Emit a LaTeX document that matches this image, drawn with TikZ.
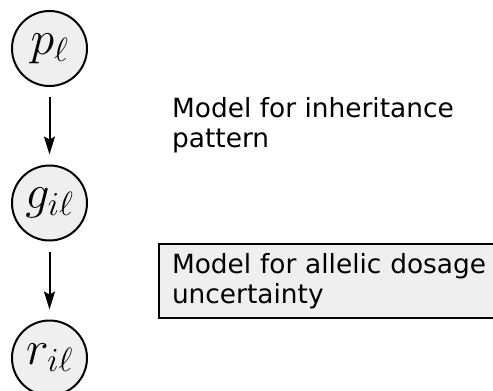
\RequirePackage{fix-cm}
\documentclass[tikz,border=0pt]{standalone}
\usepackage{fontspec}
\setmainfont{DejaVu Sans}
\usetikzlibrary{arrows.meta}
\definecolor{nodegray}{RGB}{239,239,239}
\tikzset{
  var/.style={circle,draw,line width=2pt,fill=nodegray,minimum size=75pt,inner sep=0pt,font=\fontsize{48}{56}\selectfont},
  link/.style={line width=2pt,-{Stealth[length=18pt,width=11pt,inset=3pt]},shorten <=10pt,shorten >=10pt},
  note/.style={align=left,font=\fontsize{26.4}{30}\selectfont}
}
\begin{document}
\begin{tikzpicture}[x=1pt,y=-1pt]
\useasboundingbox (0,0) rectangle (493,391);
%variables
\node[var] (p) at (49.5,48.5) {$p_\ell$};
\node[var] (g) at (49.5,203) {$g_{i\ell}$};
\node[var] (r) at (49.5,358) {$r_{i\ell}$};
%links
\draw[link] (p)--(g);
\draw[link] (g)--(r);
%models
\node[note,anchor=north west,inner sep=0pt] (inh) at (172,97) {Model for inheritance\\pattern};
\node[note,draw,line width=2pt,fill=nodegray,anchor=north west,minimum height=74pt,text width=330pt,inner xsep=13pt] (dos) at (158,243) {Model for allelic dosage\\uncertainty};
\end{tikzpicture}
\end{document}
